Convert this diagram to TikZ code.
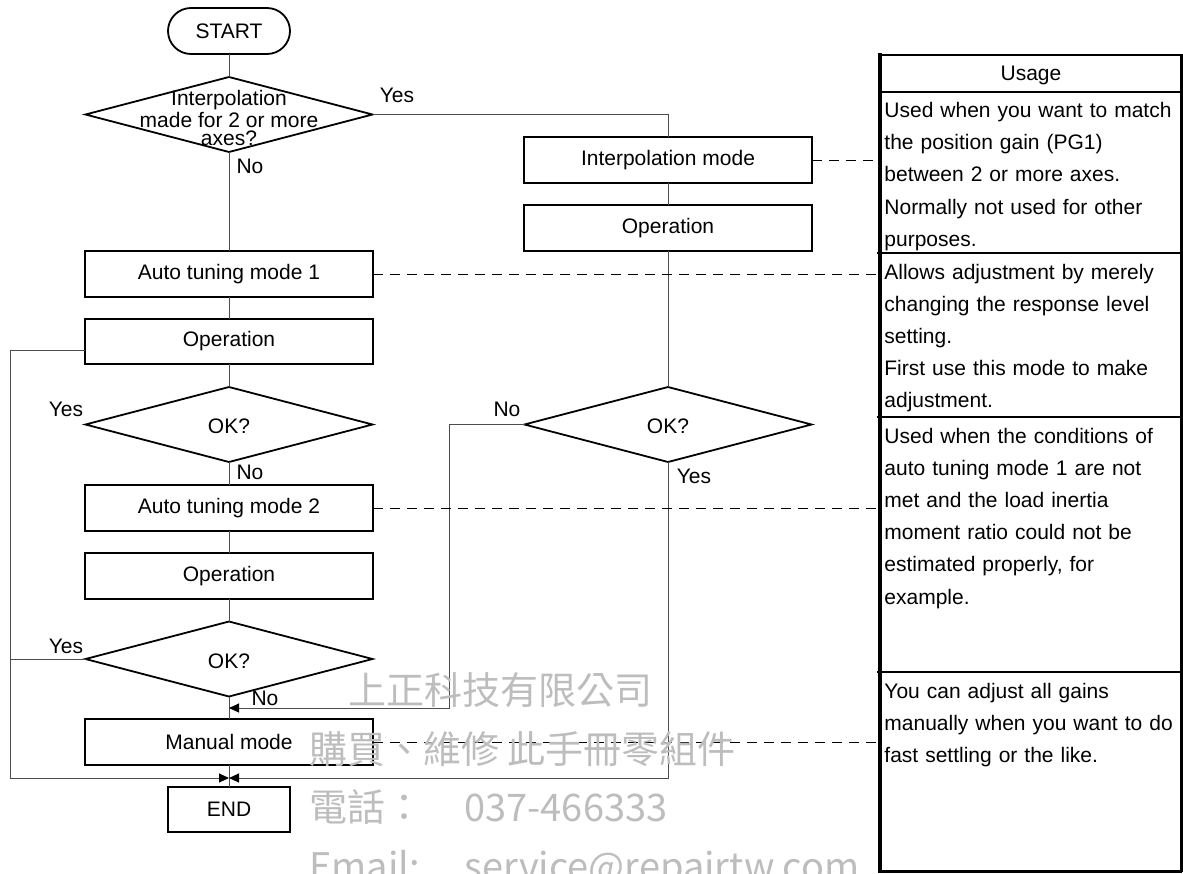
\documentclass[tikz,border=0pt]{standalone}
\usepackage{fontspec}
\setmainfont{Liberation Sans}
\newfontfamily\cjk{Noto Sans CJK TC}
\usetikzlibrary{arrows.meta,shapes.geometric}
\begin{document}
\begin{tikzpicture}[x=0.5pt,y=-0.5pt,
  font=\fontsize{10.5pt}{12.6pt}\selectfont,
  box/.style={draw=black,line width=0.9pt,minimum width=144pt,minimum height=22.75pt,inner sep=0pt,outer sep=0pt},
  term/.style={draw=black,line width=0.9pt,minimum width=61pt,minimum height=23pt,inner sep=0pt,outer sep=0pt,rounded corners=11.5pt},
  endbox/.style={draw=black,line width=0.9pt,minimum width=61pt,minimum height=22.5pt,inner sep=0pt,outer sep=0pt},
  dia/.style={draw=black,line width=0.9pt,diamond,minimum width=143.5pt,minimum height=37.5pt,inner sep=0pt,outer sep=0pt},
  conn/.style={draw=black!70,line width=0.5pt},
  arr/.style={conn,-{Triangle[length=5pt,width=4.5pt,color=black]}},
  guide/.style={draw=black,line width=0.5pt,dash pattern=on 5pt off 3.5pt},
  lab/.style={inner sep=0pt},
  cell/.style={inner sep=0pt,anchor=base west,text width=150pt,align=left,font=\fontsize{10.5pt}{16.1pt}\selectfont},
  wm/.style={text=black!26,inner sep=0pt,font=\cjk\fontsize{19pt}{20pt}\selectfont,anchor=base west}
]
\useasboundingbox (0,0) rectangle (1183,873);
\clip (0,0) rectangle (1183,873);

% ---------- left column ----------
\node[term] (start) at (229,31) {START};
\node[dia] (d1) at (229,114.5) {};
\node[lab,align=center,font=\fontsize{10.5pt}{8.8pt}\selectfont] (d1t) at (229,118) {Interpolation\\made for 2 or more\\axes?};
\node[box] (atm1) at (229,274) {Auto tuning mode 1};
\node[box] (op1) at (229,341.5) {Operation};
\node[dia] (d2) at (229,424.5) {};
\node[lab] (d2t) at (229,426) {OK?};
\node[box] (atm2) at (229,508) {Auto tuning mode 2};
\node[box] (op2) at (229,576) {Operation};
\node[dia] (d3) at (229,659) {};
\node[lab] (d3t) at (229,661) {OK?};
\node[box] (man) at (229,742) {Manual mode};
\node[endbox] (end) at (229,809.5) {END};

% ---------- right column ----------
\node[box] (intm) at (668,160) {Interpolation mode};
\node[box] (opr) at (668,228) {Operation};
\node[dia] (d2r) at (668,424.5) {};
\node[lab] (d2rt) at (668,426) {OK?};

% ---------- labels ----------
\node[lab] (l1y) at (397,95) {Yes};
\node[lab] (l1n) at (250,166.5) {No};
\node[lab] (l2y) at (66,409.5) {Yes};
\node[lab] (l2n) at (250,472) {No};
\node[lab] (l3y) at (66,646) {Yes};
\node[lab] (l3n) at (265,698.5) {No};
\node[lab] (lry) at (694,476) {Yes};
\node[lab] (lrn) at (507,409.5) {No};

% ---------- coordinates ----------
\coordinate (jn) at (229,708);
\coordinate (je) at (229,778);
\coordinate (op1w) at (85,350);
\coordinate (lt) at (10,350);
\coordinate (lb) at (10,778);
\coordinate (l3) at (10,659);

% ---------- connectors ----------
\draw[conn] (start) -- (d1);
\draw[conn] (d1) -- (atm1);
\draw[conn] (d1.east) -| (intm.north);
\draw[conn] (intm) -- (opr);
\draw[conn] (opr) -- (d2r);
\draw[conn] (atm1) -- (op1);
\draw[conn] (op1) -- (d2);
\draw[conn] (d2) -- (atm2);
\draw[conn] (atm2) -- (op2);
\draw[conn] (op2) -- (d3);
\draw[conn] (d3) -- (man);
\draw[conn] (man) -- (end);
\draw[arr] (d2r.west) -- ++(-75,0) |- (jn);
\draw[arr] (d2r.south) |- (je);
\draw[arr] (op1w) -- (lt) -- (lb) -- (je);
\draw[conn] (d3.west) -- (l3);

% ---------- table ----------
\coordinate (tl) at (880,55);
\draw[line width=2pt] (880,53) -- (880,873);
\draw[line width=1.4pt] (tl) -- (1182,55);
\draw[line width=1.5pt] (1181.3,54) -- (1181.3,872);
\draw[line width=1.4pt] (880,871.5) -- (1182,871.5);
\draw[line width=1pt] (879,92) -- (1182,92);
\draw[line width=0.9pt] (877,253) -- (1182,253);
\draw[line width=0.9pt] (877,417) -- (1182,417);
\draw[line width=0.9pt] (877,672) -- (1182,672);

\node[lab,anchor=base] (usage) at (1031,80) {Usage};
\node[cell] (r1) at (884,117.5) {Used when you want to match\\the position gain (PG1)\\between 2 or more axes.\\Normally not used for other\\purposes.};
\node[cell] (r2) at (884,279) {Allows adjustment by merely\\changing the response level\\setting.\\First use this mode to make\\adjustment.};
\node[cell] (r3) at (884,443) {Used when the conditions of\\auto tuning mode 1 are not\\met and the load inertia\\moment ratio could not be\\estimated properly, for\\example.};
\node[cell] (r4) at (884,698) {You can adjust all gains\\manually when you want to do\\fast settling or the like.};

% ---------- dashed guides ----------
\coordinate (g1) at (880,160);
\coordinate (g2) at (880,274);
\coordinate (g3) at (880,508);
\coordinate (g4) at (880,742);
\draw[guide] (intm.east) -- (g1);
\draw[guide] (atm1.east) -- (g2);
\draw[guide] (atm2.east) -- (g3);
\draw[guide] (man.east) -- (g4);

% ---------- watermark ----------
\node[wm] (w1) at (348,704) {上正科技有限公司};
\node[wm] (w2) at (309,763) {購買、維修 此手冊零組件};
\node[wm] (w3) at (309,821) {\makebox[77.5pt][l]{電話：}037-466333};
\node[wm] (w4) at (309,880) {\makebox[77.5pt][l]{Email:}service@repairtw.com};
\end{tikzpicture}
\end{document}
